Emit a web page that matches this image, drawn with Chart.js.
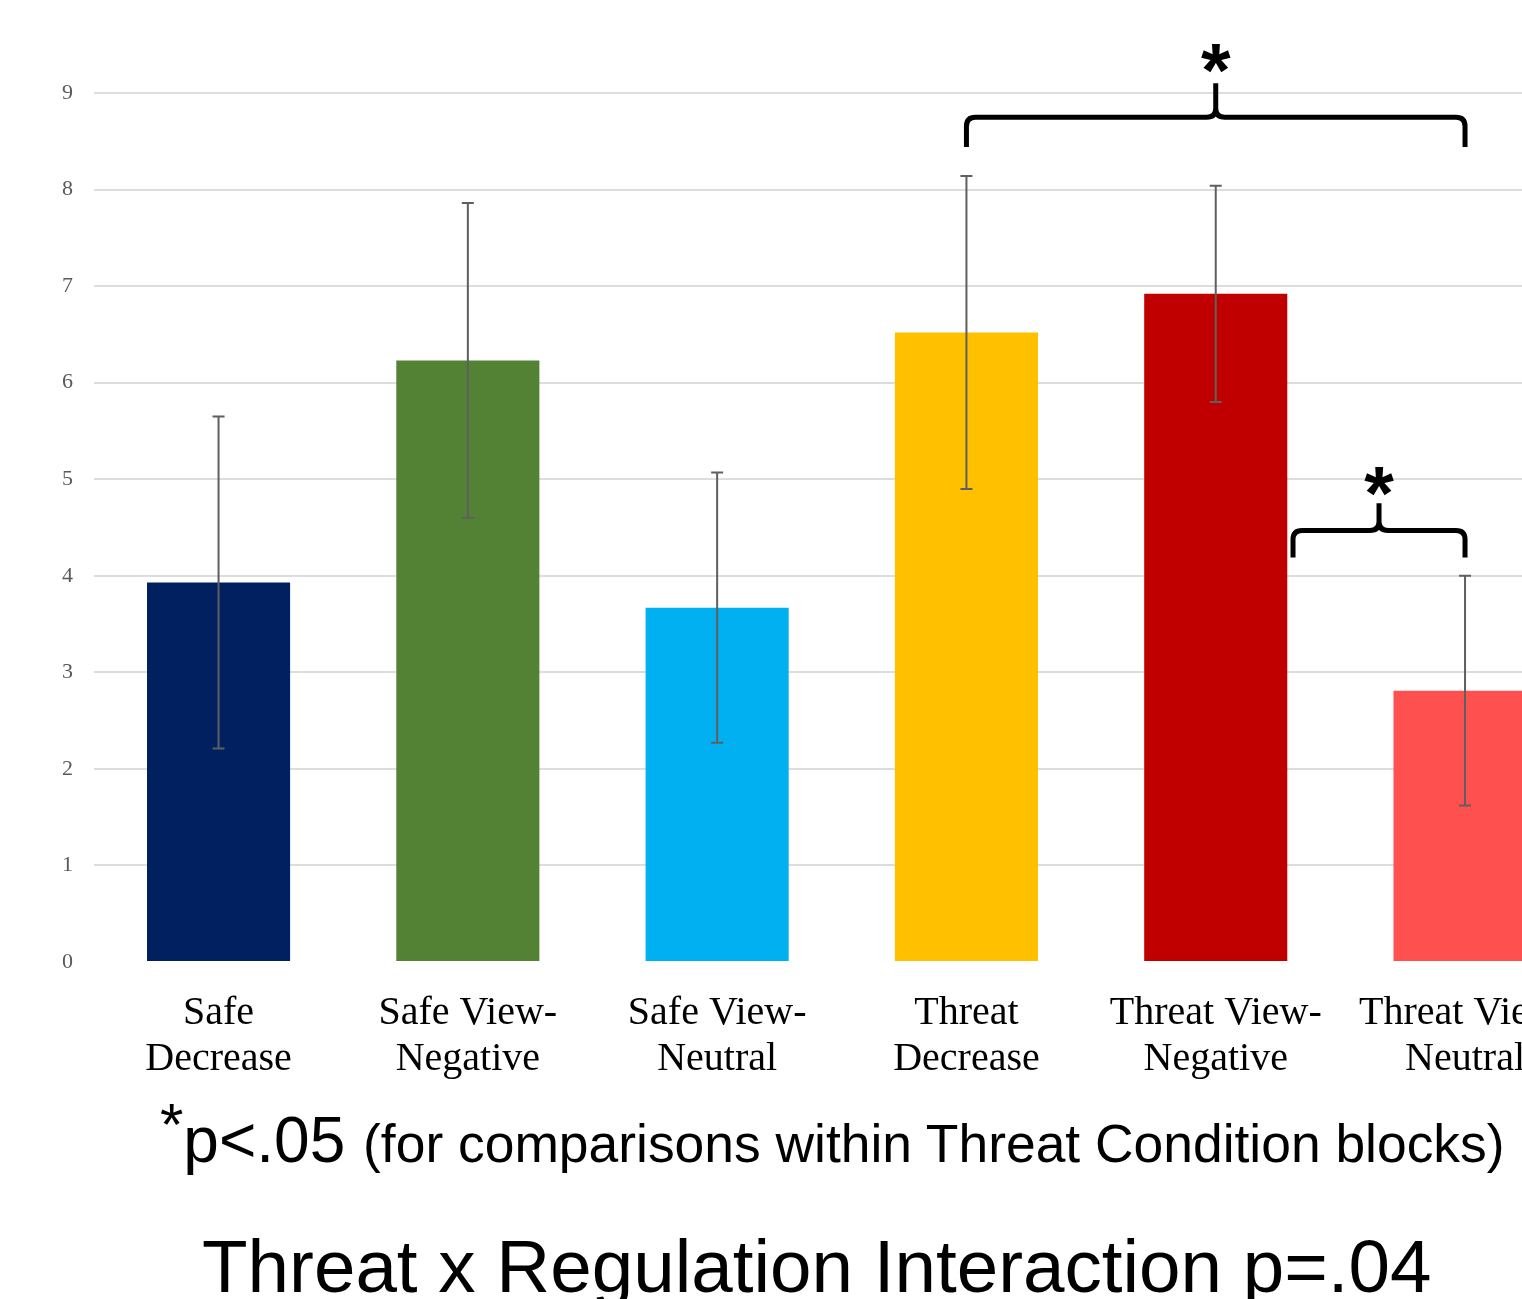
<!DOCTYPE html>
<html lang="en">
<head>
  <meta charset="UTF-8" />
  <title>Threat x Regulation</title>
  <script src="https://cdn.jsdelivr.net/npm/chart.js"></script>
  <style>
    body {
      margin: 0;
      padding: 0;
      background: #fff;
      overflow: hidden;
    }
    .page {
      position: relative;
      width: 1522px;
      height: 1299px;
      overflow: hidden;
      background: #fff;
    }
    #chart {
      position: absolute;
      left: 0;
      top: 0;
    }
    .note {
      position: absolute;
      left: 160px;
      top: 1108px;
      font-family: 'Liberation Sans', Arial, sans-serif;
      font-size: 64px;
      line-height: 1;
      color: #000;
      white-space: nowrap;
    }
    .note .star {
      position: relative;
      top: -17px;
      font-size: 60px;
    }
    .note .rest {
      font-size: 53.4px;
    }
    .title {
      position: absolute;
      left: 202px;
      top: 1229px;
      font-family: 'Liberation Sans', Arial, sans-serif;
      font-size: 74.6px;
      line-height: 1;
      color: #000;
      white-space: nowrap;
    }
  </style>
</head>
<body>
  <div class="page">
    <canvas id="chart" width="1591" height="1100"></canvas>
    <div class="note"><span class="star">*</span>p&lt;.05 <span class="rest">(for comparisons within Threat Condition blocks)</span></div>
    <div class="title">Threat x Regulation Interaction p=.04</div>
  </div>

  <script>
    const labels = [
      ['Safe', 'Decrease'],
      ['Safe View-', 'Negative'],
      ['Safe View-', 'Neutral'],
      ['Threat', 'Decrease'],
      ['Threat View-', 'Negative'],
      ['Threat View-', 'Neutral']
    ];
    const means = [3.93, 6.23, 3.67, 6.52, 6.92, 2.81];
    const errors = [1.72, 1.63, 1.40, 1.62, 1.12, 1.19];
    const barColors = ['#002060', '#548235', '#00B0F0', '#FFC000', '#C00000', '#FF5050'];
    const yTicks = [0, 1, 2, 3, 4, 5, 6, 7, 8, 9];

    // significance braces: from / to category index, level of the bar, level of the ends
    const braceFrom = [3, 4.31];
    const braceTo = [5, 5];
    const braceLevel = [8.75, 4.47];
    const braceEnd = [8.44, 4.19];
    const bracePeak = [9.10, 4.75];
    const braceStar = [9.38, 5.0];

    const errorBars = {
      id: 'errorBars',
      afterDatasetsDraw(chart) {
        const ctx = chart.ctx;
        const y = chart.scales.y;
        const meta = chart.getDatasetMeta(0);
        ctx.save();
        ctx.strokeStyle = '#5f5f5f';
        ctx.lineWidth = 2;
        meta.data.forEach((bar, i) => {
          const top = y.getPixelForValue(means[i] + errors[i]);
          const bot = y.getPixelForValue(means[i] - errors[i]);
          ctx.beginPath();
          ctx.moveTo(bar.x, top);
          ctx.lineTo(bar.x, bot);
          ctx.moveTo(bar.x - 6, top);
          ctx.lineTo(bar.x + 6, top);
          ctx.moveTo(bar.x - 6, bot);
          ctx.lineTo(bar.x + 6, bot);
          ctx.stroke();
        });
        ctx.restore();
      }
    };

    const braces = {
      id: 'braces',
      afterDraw(chart) {
        const ctx = chart.ctx;
        const x = chart.scales.x;
        const y = chart.scales.y;
        ctx.save();
        ctx.strokeStyle = '#000';
        ctx.lineWidth = 5;
        ctx.lineJoin = 'round';
        braceFrom.forEach((f, i) => {
          const x1 = x.getPixelForValue(f);
          const x2 = x.getPixelForValue(braceTo[i]);
          const xm = (x1 + x2) / 2;
          const yh = y.getPixelForValue(braceLevel[i]);
          const ye = y.getPixelForValue(braceEnd[i]);
          const yp = y.getPixelForValue(bracePeak[i]);
          const r = 9, c = 9;
          ctx.beginPath();
          ctx.moveTo(x1, ye);
          ctx.lineTo(x1, yh + r);
          ctx.quadraticCurveTo(x1, yh, x1 + r, yh);
          ctx.lineTo(xm - c, yh);
          ctx.quadraticCurveTo(xm, yh, xm, yh - c);
          ctx.lineTo(xm, yp);
          ctx.moveTo(xm, yh - c);
          ctx.quadraticCurveTo(xm, yh, xm + c, yh);
          ctx.lineTo(x2 - r, yh);
          ctx.quadraticCurveTo(x2, yh, x2, yh + r);
          ctx.lineTo(x2, ye);
          ctx.stroke();

          ctx.fillStyle = '#000';
          ctx.font = 'bold 76px "Liberation Sans", Arial, sans-serif';
          ctx.textAlign = 'center';
          ctx.textBaseline = 'alphabetic';
          ctx.fillText('*', xm, y.getPixelForValue(braceStar[i]) + 40);
        });
        ctx.restore();
      }
    };

    new Chart(document.getElementById('chart'), {
      type: 'bar',
      data: {
        labels: labels,
        datasets: [{
          data: means,
          backgroundColor: barColors,
          borderWidth: 0,
          barPercentage: 0.574,
          categoryPercentage: 1
        }]
      },
      options: {
        responsive: false,
        animation: false,
        layout: {
          autoPadding: false,
          padding: { top: 93, left: 0, right: 0, bottom: 0 }
        },
        plugins: {
          legend: { display: false },
          tooltip: { enabled: false }
        },
        scales: {
          x: {
            grid: { display: false },
            border: { display: false },
            ticks: {
              color: '#000',
              padding: 20,
              maxRotation: 0,
              autoSkip: false,
              font: { family: '"Liberation Serif", "Times New Roman", serif', size: 40, lineHeight: 1.15 }
            },
            afterFit(scale) { scale.height = 138; }
          },
          y: {
            min: 0,
            max: 9,
            afterBuildTicks(scale) { scale.ticks = yTicks.map(v => ({ value: v })); },
            grid: {
              color: ctx => ctx.tick && ctx.tick.value === 0 ? 'rgba(0,0,0,0)' : '#dddddd',
              lineWidth: 2,
              drawTicks: false
            },
            border: { display: false },
            ticks: {
              color: '#595959',
              padding: 21,
              font: { family: '"Liberation Serif", "Times New Roman", serif', size: 22 }
            },
            afterFit(scale) { scale.width = 93.9; }
          }
        }
      },
      plugins: [errorBars, braces]
    });
  </script>
</body>
</html>
